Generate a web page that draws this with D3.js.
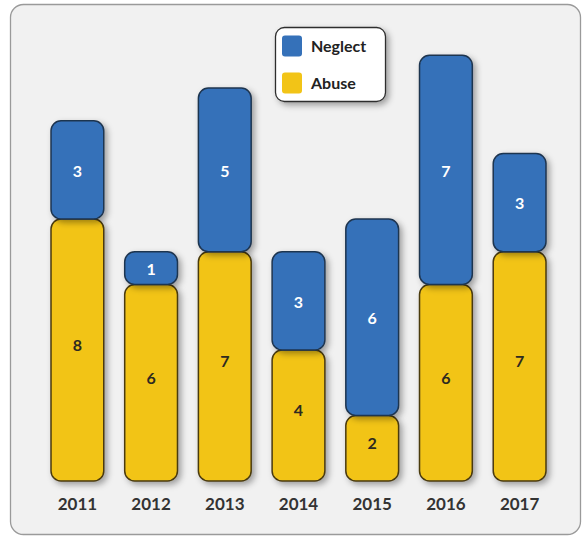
<!DOCTYPE html>
<html>
<head>
<meta charset="utf-8">
<script src="https://cdn.jsdelivr.net/npm/d3@7"></script>
<style>
  html, body { margin: 0; padding: 0; background: #ffffff; }
  svg { display: block; }
  text { font-family: Lato, "Open Sans", sans-serif; font-weight: bold; }
</style>
</head>
<body>
<svg id="chart" width="583" height="537"></svg>
<script>
// Yearly counts, split into two stacked categories
const years = ["2011", "2012", "2013", "2014", "2015", "2016", "2017"];
const abuse = [8, 6, 7, 4, 2, 6, 7];
const neglect = [3, 1, 5, 3, 6, 7, 3];
const seriesNames = ["Neglect", "Abuse"];
const seriesColors = ["#3571b9", "#f2c417"];

const svg = d3.select("#chart");

// soft drop shadow used by the bars and legend
const defs = svg.append("defs");
const f = defs.append("filter").attr("id", "shadow")
  .attr("x", "-30%").attr("y", "-30%").attr("width", "170%").attr("height", "170%");
f.append("feDropShadow").attr("dx", 3).attr("dy", 3).attr("stdDeviation", 3)
  .attr("flood-color", "#000").attr("flood-opacity", 0.35);

// background panel
svg.append("rect")
  .attr("x", 10.5).attr("y", 4.5).attr("width", 570).attr("height", 530)
  .attr("rx", 13).attr("fill", "#f1f1f1").attr("stroke", "#9a9a9a").attr("stroke-width", 1.3);

const baseY = 481;
const x = d3.scaleBand().domain(years).range([51, 546]).paddingInner(0.284).paddingOuter(0);
const y = d3.scaleLinear().domain([0, 13]).range([baseY, baseY - 13 * 32.75]);

const rows = years.map((yr, i) => ({ year: yr, abuse: abuse[i], neglect: neglect[i] }));
const stack = d3.stack().keys(["abuse", "neglect"])(rows);
const colorOf = { abuse: seriesColors[1], neglect: seriesColors[0] };

const groups = svg.append("g").selectAll("g").data(stack).join("g");
groups.each(function (layer) {
  const g = d3.select(this);
  g.selectAll("rect").data(layer).join("rect")
    .attr("x", d => x(d.data.year))
    .attr("width", x.bandwidth())
    .attr("y", d => y(d[1]))
    .attr("height", d => y(d[0]) - y(d[1]))
    .attr("rx", 10)
    .attr("fill", colorOf[layer.key])
    .attr("stroke", layer.key === "abuse" ? "#4a3a10" : "#1f3550")
    .attr("stroke-width", 1.5)
    .attr("filter", "url(#shadow)");
});

// value labels inside each segment (lower segment labels sit a little above centre)
groups.each(function (layer) {
  const lift = layer.key === "abuse" ? -5 : 1;
  d3.select(this).selectAll("text").data(layer).join("text")
    .attr("x", d => x(d.data.year) + x.bandwidth() / 2)
    .attr("y", d => (y(d[0]) + y(d[1])) / 2 + lift)
    .attr("dy", "0.36em")
    .attr("text-anchor", "middle")
    .attr("font-size", 16)
    .attr("fill", layer.key === "abuse" ? "#2e2a20" : "#ffffff")
    .text(d => d[1] - d[0]);
});

// category axis labels
const xAxis = svg.append("g").attr("transform", `translate(0,${baseY})`)
  .call(d3.axisBottom(x).tickSize(0).tickPadding(17));
xAxis.select(".domain").remove();
xAxis.selectAll("text")
  .attr("font-size", 17).attr("fill", "#333333")
  .style("font-family", "Lato, 'Open Sans', sans-serif").style("font-weight", "bold");

// legend
const legend = svg.append("g");
legend.append("rect")
  .attr("x", 275.5).attr("y", 27.5).attr("width", 110).attr("height", 74)
  .attr("rx", 9).attr("fill", "#ffffff").attr("stroke", "#2e2e2e").attr("stroke-width", 1.3)
  .attr("filter", "url(#shadow)");
const legendY = d3.scalePoint().domain(seriesNames).range([46, 83]);
const items = legend.selectAll("g.item").data(seriesNames).join("g").attr("class", "item");
items.append("rect")
  .attr("x", 282).attr("y", d => legendY(d) - 10.5)
  .attr("width", 20).attr("height", 21).attr("rx", 3)
  .attr("fill", (d, i) => seriesColors[i]);
items.append("text")
  .attr("x", 311).attr("y", d => legendY(d)).attr("dy", "0.36em")
  .attr("font-size", 16).attr("fill", "#222222")
  .text(d => d);
</script>
</body>
</html>
